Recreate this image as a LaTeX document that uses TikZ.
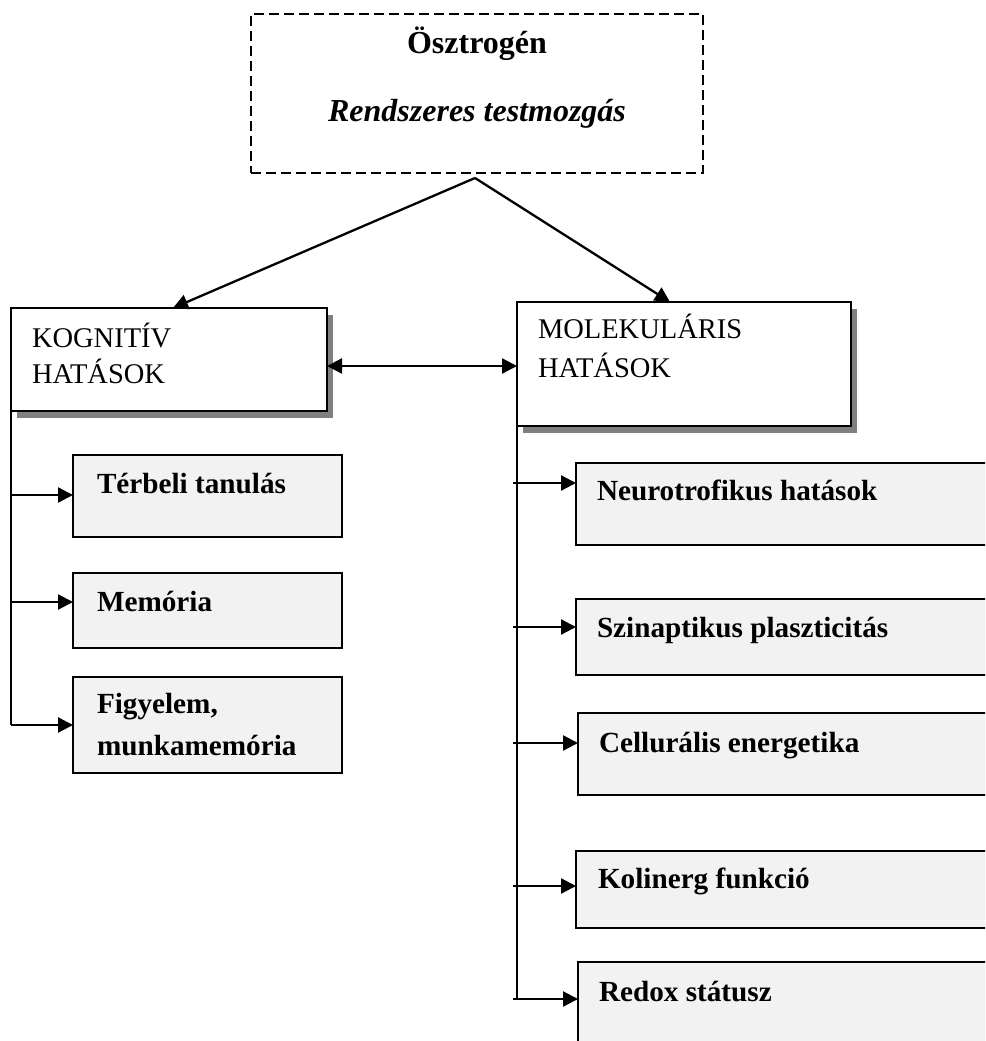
\documentclass[tikz,border=0pt]{standalone}
\usepackage{fontspec}
\setmainfont{Liberation Serif}
\usetikzlibrary{arrows.meta,calc,shadows}
\definecolor{boxfill}{HTML}{F2F2F2}
\definecolor{shade}{HTML}{808080}
\begin{document}
\begin{tikzpicture}[x=1pt,y=-1pt,
  every node/.style={inner sep=0pt, outer sep=0pt},
  txt/.style={anchor=base west, font=\fontsize{28.5}{34}\selectfont},
  btxt/.style={anchor=base west, font=\fontsize{29.2}{34}\selectfont\bfseries},
  mainbox/.style={draw, line width=2pt, fill=white, anchor=north west,
    drop shadow={shadow xshift=6pt, shadow yshift=-7pt, fill=shade, opacity=1}},
  subbox/.style={draw, line width=2pt, fill=boxfill, anchor=north west},
  topbox/.style={draw, line width=2.5pt, dash pattern=on 10pt off 5pt, anchor=north west},
  conn/.style={line width=1.8pt},
  arr/.style={line width=2.3pt, -{Triangle[length=15pt,width=15pt]}},
  darr/.style={line width=2.3pt, {Triangle[length=15pt,width=15pt]}-{Triangle[length=15pt,width=15pt]}}]
\useasboundingbox (0,0) rectangle (985,1041);
\clip (0,0) rectangle (985,1041);

% top dashed box
\node[topbox, minimum width=452pt, minimum height=159pt] (top) at (251,14) {};
\node[anchor=base, font=\fontsize{32}{38}\selectfont\bfseries] (t1) at (477,53) {Ösztrogén};
\node[anchor=base, font=\fontsize{32}{38}\selectfont\bfseries\itshape] (t2) at (477,121) {Rendszeres testmozgás};

% main boxes
\node[mainbox, minimum width=316pt, minimum height=103pt] (kog) at (11,308) {};
\node[mainbox, minimum width=334pt, minimum height=124pt] (mol) at (517,302) {};
\node[txt] (kt1) at ($(kog.north west)+(21,39)$) {KOGNITÍV};
\node[txt] (kt2) at ($(kog.north west)+(21,75)$) {HATÁSOK};
\node[txt] (mt1) at ($(mol.north west)+(21,36)$) {MOLEKULÁRIS};
\node[txt] (mt2) at ($(mol.north west)+(21,75)$) {HATÁSOK};

% left sub boxes
\node[subbox, minimum width=269pt, minimum height=82pt] (ter) at (73,455) {};
\node[subbox, minimum width=269pt, minimum height=75pt] (mem) at (73,573) {};
\node[subbox, minimum width=269pt, minimum height=96pt] (fig) at (73,677) {};
\node[btxt] (tert) at ($(ter.north west)+(24,38)$) {Térbeli tanulás};
\node[btxt] (memt) at ($(mem.north west)+(24,38)$) {Memória};
\node[btxt] (figt1) at ($(fig.north west)+(24,36)$) {Figyelem,};
\node[btxt] (figt2) at ($(fig.north west)+(24,78)$) {munkamemória};

% right sub boxes
\node[subbox, minimum width=420pt, minimum height=82pt] (neu) at (576,463) {};
\node[subbox, minimum width=420pt, minimum height=76pt] (szi) at (576,599) {};
\node[subbox, minimum width=418pt, minimum height=82pt] (cel) at (578,713) {};
\node[subbox, minimum width=420pt, minimum height=77pt] (kol) at (576,851) {};
\node[subbox, minimum width=418pt, minimum height=100pt] (red) at (578,962) {};
\node[btxt] (neut) at ($(neu.north west)+(21,37)$) {Neurotrofikus hatások};
\node[btxt] (szit) at ($(szi.north west)+(21,38)$) {Szinaptikus plaszticitás};
\node[btxt] (celt) at ($(cel.north west)+(21,39)$) {Cellurális energetika};
\node[btxt] (kolt) at ($(kol.north west)+(22,37)$) {Kolinerg funkció};
\node[btxt] (redt) at ($(red.north west)+(21,39)$) {Redox státusz};

% top connectors
\coordinate (apex) at (475,178);
\draw[arr] (apex) -- ($(kog.north west)+(162,0)$);
\draw[arr] (apex) -- ($(mol.north west)+(153,0)$);
\draw[darr] ($(kog.north east)+(0,58)$) -- ($(mol.north west)+(0,64)$);

% left trunk
\coordinate (m1) at ($(mem.north west)+(0,29)$);
\coordinate (tr1) at ($(ter.north west)+(0,40)$);
\draw[conn] (kog.south west) -- (fig.west -| kog.west);
\draw[arr] (fig.west -| kog.west) -- (fig.west);
\draw[arr] (tr1 -| kog.west) -- (tr1);
\draw[arr] (m1 -| kog.west) -- (m1);

% right trunk
\coordinate (n1) at ($(neu.north west)+(0,20)$);
\coordinate (s1) at ($(szi.north west)+(0,28)$);
\coordinate (c1) at ($(cel.north west)+(0,30)$);
\coordinate (k1) at ($(kol.north west)+(0,35)$);
\coordinate (r1) at ($(red.north west)+(0,37)$);
\coordinate (n0) at (n1 -| mol.west);
\coordinate (s0) at (s1 -| mol.west);
\coordinate (c0) at (c1 -| mol.west);
\coordinate (k0) at (k1 -| mol.west);
\coordinate (r0) at (r1 -| mol.west);
\draw[conn] (mol.south west) -- (r0);
\draw[arr] ($(n0)+(-4,0)$) -- (n1);
\draw[arr] ($(s0)+(-4,0)$) -- (s1);
\draw[arr] ($(c0)+(-4,0)$) -- (c1);
\draw[arr] ($(k0)+(-4,0)$) -- (k1);
\draw[arr] ($(r0)+(-4,0)$) -- (r1);
\end{tikzpicture}
\end{document}
